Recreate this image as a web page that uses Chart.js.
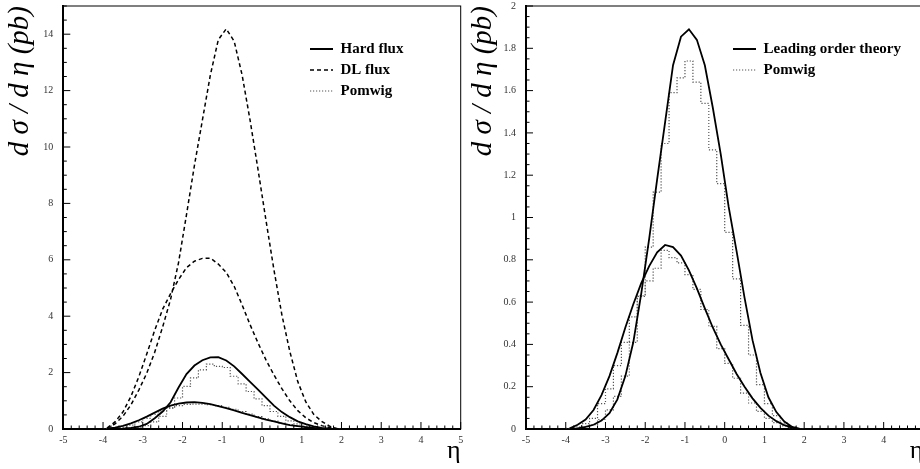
<!DOCTYPE html>
<html>
<head>
<meta charset="utf-8">
<script src="https://cdn.jsdelivr.net/npm/chart.js@4.4.1/dist/chart.umd.min.js"></script>
<style>
html,body{margin:0;padding:0;background:#fff;overflow:hidden;width:920px;height:469px;}
#c1{position:absolute;left:0;top:0;}
#c2{position:absolute;left:460px;top:0;}
</style>
</head>
<body>
<canvas id="c1" width="470" height="469"></canvas>
<canvas id="c2" width="470" height="469"></canvas>
<script>
// ---------- data ----------
const etaCenters = [-3.9,-3.7,-3.5,-3.3,-3.1,-2.9,-2.7,-2.5,-2.3,-2.1,-1.9,-1.7,-1.5,-1.3,-1.1,-0.9,-0.7,-0.5,-0.3,-0.1,0.1,0.3,0.5,0.7,0.9,1.1,1.3,1.5,1.7,1.9];
const binLowEdges = [-4.0,-3.8,-3.6,-3.4,-3.2,-3.0,-2.8,-2.6,-2.4,-2.2,-2.0,-1.8,-1.6,-1.4,-1.2,-1.0,-0.8,-0.6,-0.4,-0.2,0.0,0.2,0.4,0.6,0.8,1.0,1.2,1.4,1.6,1.8];
const binUpperEdge = 2.0;

// left panel
const hardFluxBig   = [0,0.005,0.015,0.04,0.08,0.18,0.38,0.62,0.95,1.47,1.95,2.25,2.44,2.54,2.55,2.43,2.22,1.95,1.67,1.4,1.11,0.83,0.6,0.42,0.27,0.17,0.09,0.04,0.01,0];
const hardFluxSmall = [0.01,0.05,0.11,0.2,0.31,0.44,0.58,0.72,0.83,0.9,0.94,0.95,0.93,0.88,0.81,0.74,0.66,0.57,0.49,0.41,0.33,0.27,0.2,0.14,0.1,0.065,0.035,0.015,0.005,0];
const dlFluxBig     = [0.02,0.18,0.45,0.85,1.38,1.98,2.72,3.62,4.6,5.9,7.6,9.35,10.95,12.55,13.8,14.19,13.75,12.55,10.95,9.2,7.4,5.65,4.05,2.75,1.68,0.97,0.52,0.27,0.1,0.01];
const dlFluxSmall   = [0.03,0.25,0.6,1.15,1.85,2.66,3.5,4.25,4.8,5.3,5.72,5.95,6.05,6.06,5.85,5.55,5.06,4.4,3.7,3.05,2.45,1.92,1.43,1.0,0.65,0.4,0.23,0.12,0.05,0];
const pomwigLeftBig   = [0,0,0.01,0.03,0.06,0.12,0.25,0.45,0.74,1.1,1.51,1.81,2.1,2.3,2.22,2.18,1.87,1.6,1.33,1.07,0.83,0.62,0.45,0.29,0.18,0.1,0.05,0.02,0.01,0];
const pomwigLeftSmall = [0.005,0.02,0.06,0.14,0.25,0.38,0.52,0.64,0.75,0.83,0.87,0.88,0.88,0.86,0.83,0.77,0.7,0.62,0.53,0.44,0.36,0.28,0.21,0.15,0.1,0.06,0.035,0.015,0.005,0];

// right panel
const loTheoryBig   = [0,0.003,0.01,0.02,0.04,0.075,0.14,0.25,0.41,0.64,0.9,1.18,1.45,1.72,1.855,1.89,1.84,1.72,1.52,1.3,1.05,0.84,0.62,0.42,0.265,0.15,0.08,0.035,0.01,0];
const loTheorySmall = [0.003,0.02,0.045,0.09,0.16,0.25,0.36,0.48,0.59,0.69,0.77,0.835,0.87,0.86,0.82,0.75,0.665,0.57,0.48,0.4,0.33,0.26,0.2,0.145,0.1,0.063,0.037,0.018,0.006,0];
const pomwigRightBig   = [0,0.003,0.01,0.02,0.045,0.09,0.154,0.25,0.41,0.63,0.86,1.12,1.35,1.59,1.66,1.74,1.64,1.54,1.32,1.16,0.93,0.71,0.49,0.35,0.21,0.12,0.063,0.028,0.01,0];
const pomwigRightSmall = [0.003,0.01,0.025,0.05,0.12,0.19,0.3,0.41,0.53,0.627,0.7,0.76,0.845,0.81,0.785,0.73,0.66,0.565,0.485,0.38,0.31,0.24,0.17,0.123,0.083,0.05,0.03,0.015,0.005,0];

// ticks
const xTickLabels = [-5,-4,-3,-2,-1,0,1,2,3,4,5];
const yTickLabelsLeft = [0,2,4,6,8,10,12,14];
const yTickLabelsRight = [0,0.2,0.4,0.6,0.8,1,1.2,1.4,1.6,1.8,2];

// ---------- helpers ----------
const curvePts = (ys) => etaCenters.map((x, i) => ({x: x, y: ys[i]}));
const histPts = (vals) => binLowEdges.map((x, i) => ({x: x, y: vals[i]})).concat([{x: binUpperEdge, y: vals[vals.length - 1]}]);

const SERIF = "'Liberation Serif', 'DejaVu Serif', serif";

const solid = (label, ys) => ({label, data: curvePts(ys), borderColor: '#000', backgroundColor: '#000', borderWidth: 1.8, pointRadius: 0, tension: 0, fill: false});
const dashed = (label, ys) => ({label, data: curvePts(ys), borderColor: '#000', backgroundColor: '#000', borderWidth: 1.5, borderDash: [4, 3], pointRadius: 0, tension: 0, fill: false});
const dotted = (label, vals) => ({label, data: histPts(vals), borderColor: '#555', backgroundColor: '#555', borderWidth: 1.2, borderDash: [1.2, 1.8], pointRadius: 0, stepped: true, fill: false});

const frameTicks = {
  id: 'frameTicks',
  afterDraw(chart, args, o) {
    const {ctx, chartArea: a} = chart;
    const x = chart.scales.x, y = chart.scales.y;
    ctx.save();
    ctx.strokeStyle = '#000';
    ctx.lineWidth = 1;
    ctx.strokeRect(a.left, a.top, a.right - a.left, a.bottom - a.top);
    const nx = Math.round((x.max - x.min) / o.xMinor);
    for (let i = 0; i <= nx; i++) {
      const v = x.min + i * o.xMinor;
      const major = Math.abs(v / o.xMajor - Math.round(v / o.xMajor)) < 1e-6;
      const p = x.getPixelForValue(v);
      ctx.beginPath(); ctx.moveTo(p, a.bottom); ctx.lineTo(p, a.bottom - (major ? 7 : 3.5)); ctx.stroke();
    }
    const ny = Math.round((y.max - y.min) / o.yMinor);
    for (let i = 0; i <= ny; i++) {
      const v = y.min + i * o.yMinor;
      const major = Math.abs(v / o.yMajor - Math.round(v / o.yMajor)) < 1e-6;
      const p = y.getPixelForValue(v);
      ctx.beginPath(); ctx.moveTo(a.left, p); ctx.lineTo(a.left + (major ? 7 : 3.5), p); ctx.stroke();
    }
    ctx.restore();
  }
};

const legendPos = {
  id: 'legendPos',
  beforeDraw(chart, args, o) {
    const lg = chart.legend;
    if (!lg) return;
    lg.left = o.x; lg.top = o.y; lg.width = 250; lg.height = 120;
    lg.right = o.x + 250; lg.bottom = o.y + 120;
  }
};

function makeChart(id, datasets, cfg) {
  return new Chart(document.getElementById(id), {
    type: 'line',
    data: {datasets},
    plugins: [frameTicks, legendPos],
    options: {
      responsive: false,
      animation: false,
      events: [],
      layout: {padding: {left: cfg.padLeft, right: cfg.padRight, top: 6, bottom: 0}},
      scales: {
        x: {
          type: 'linear', min: -5, max: 5,
          afterBuildTicks: (s) => { s.ticks = xTickLabels.map(v => ({value: v})); },
          afterFit: (s) => { s.height = 40; s.paddingLeft = 0; s.paddingRight = 0; },
          ticks: {autoSkip: false, maxRotation: 0, padding: 5, color: '#333', font: {family: SERIF, size: 10}, callback: (v) => String(v)},
          grid: {drawOnChartArea: false, drawTicks: false},
          border: {display: true, color: '#000', width: 2},
          title: {display: true, text: 'η', align: 'end', color: '#000', font: {family: SERIF, size: 26, lineHeight: 1}, padding: {top: 0, bottom: 5}}
        },
        y: {
          type: 'linear', min: 0, max: cfg.yMax,
          afterBuildTicks: (s) => { s.ticks = cfg.yTicks.map(v => ({value: v})); },
          afterFit: (s) => { s.width = 63.3; s.paddingTop = 0; s.paddingBottom = 0; },
          ticks: {autoSkip: false, padding: 10, color: '#333', font: {family: SERIF, size: 10}, callback: (v) => String(v)},
          grid: {drawOnChartArea: false, drawTicks: false},
          border: {display: true, color: '#000', width: 2},
          title: {display: true, text: 'd σ / d η (pb)', align: 'end', color: '#000', font: {family: SERIF, size: 29, style: 'italic', lineHeight: 1}, padding: {top: 5.7, bottom: 0}}
        }
      },
      plugins: {
        tooltip: {enabled: false},
        frameTicks: {xMinor: 0.2, xMajor: 1, yMinor: cfg.yMinor, yMajor: cfg.yMajor},
        legendPos: {x: cfg.legX, y: cfg.legY},
        legend: {
          display: true,
          position: 'chartArea',
          fullSize: false,
          align: 'start',
          labels: {
            usePointStyle: true,
            pointStyleWidth: 23,
            padding: 6,
            color: '#000',
            font: {family: SERIF, size: 15, weight: 'bold'},
            generateLabels: (chart) => chart.data.datasets
              .map((d, i) => ({text: d.label, datasetIndex: i, strokeStyle: d.borderColor, fillStyle: d.borderColor,
                lineWidth: d.borderWidth, lineDash: d.borderDash || [], pointStyle: 'line', hidden: false, fontColor: '#000'}))
              .filter((it, i, arr) => arr.findIndex(o => o.text === it.text) === i)
          }
        }
      }
    }
  });
}

makeChart('c1', [
  solid('Hard flux', hardFluxBig),
  solid('Hard flux', hardFluxSmall),
  dashed('DL flux', dlFluxBig),
  dashed('DL flux', dlFluxSmall),
  dotted('Pomwig', pomwigLeftBig),
  dotted('Pomwig', pomwigLeftSmall)
], {padLeft: 0, padRight: 9.3, yMax: 15, yTicks: yTickLabelsLeft, yMinor: 0.5, yMajor: 2, legX: 304, legY: 35.5});

makeChart('c2', [
  solid('Leading order theory', loTheoryBig),
  solid('Leading order theory', loTheorySmall),
  dotted('Pomwig', pomwigRightBig),
  dotted('Pomwig', pomwigRightSmall)
], {padLeft: 2.7, padRight: 6.6, yMax: 2, yTicks: yTickLabelsRight, yMinor: 0.05, yMajor: 0.2, legX: 267, legY: 35.5});
</script>
</body>
</html>
